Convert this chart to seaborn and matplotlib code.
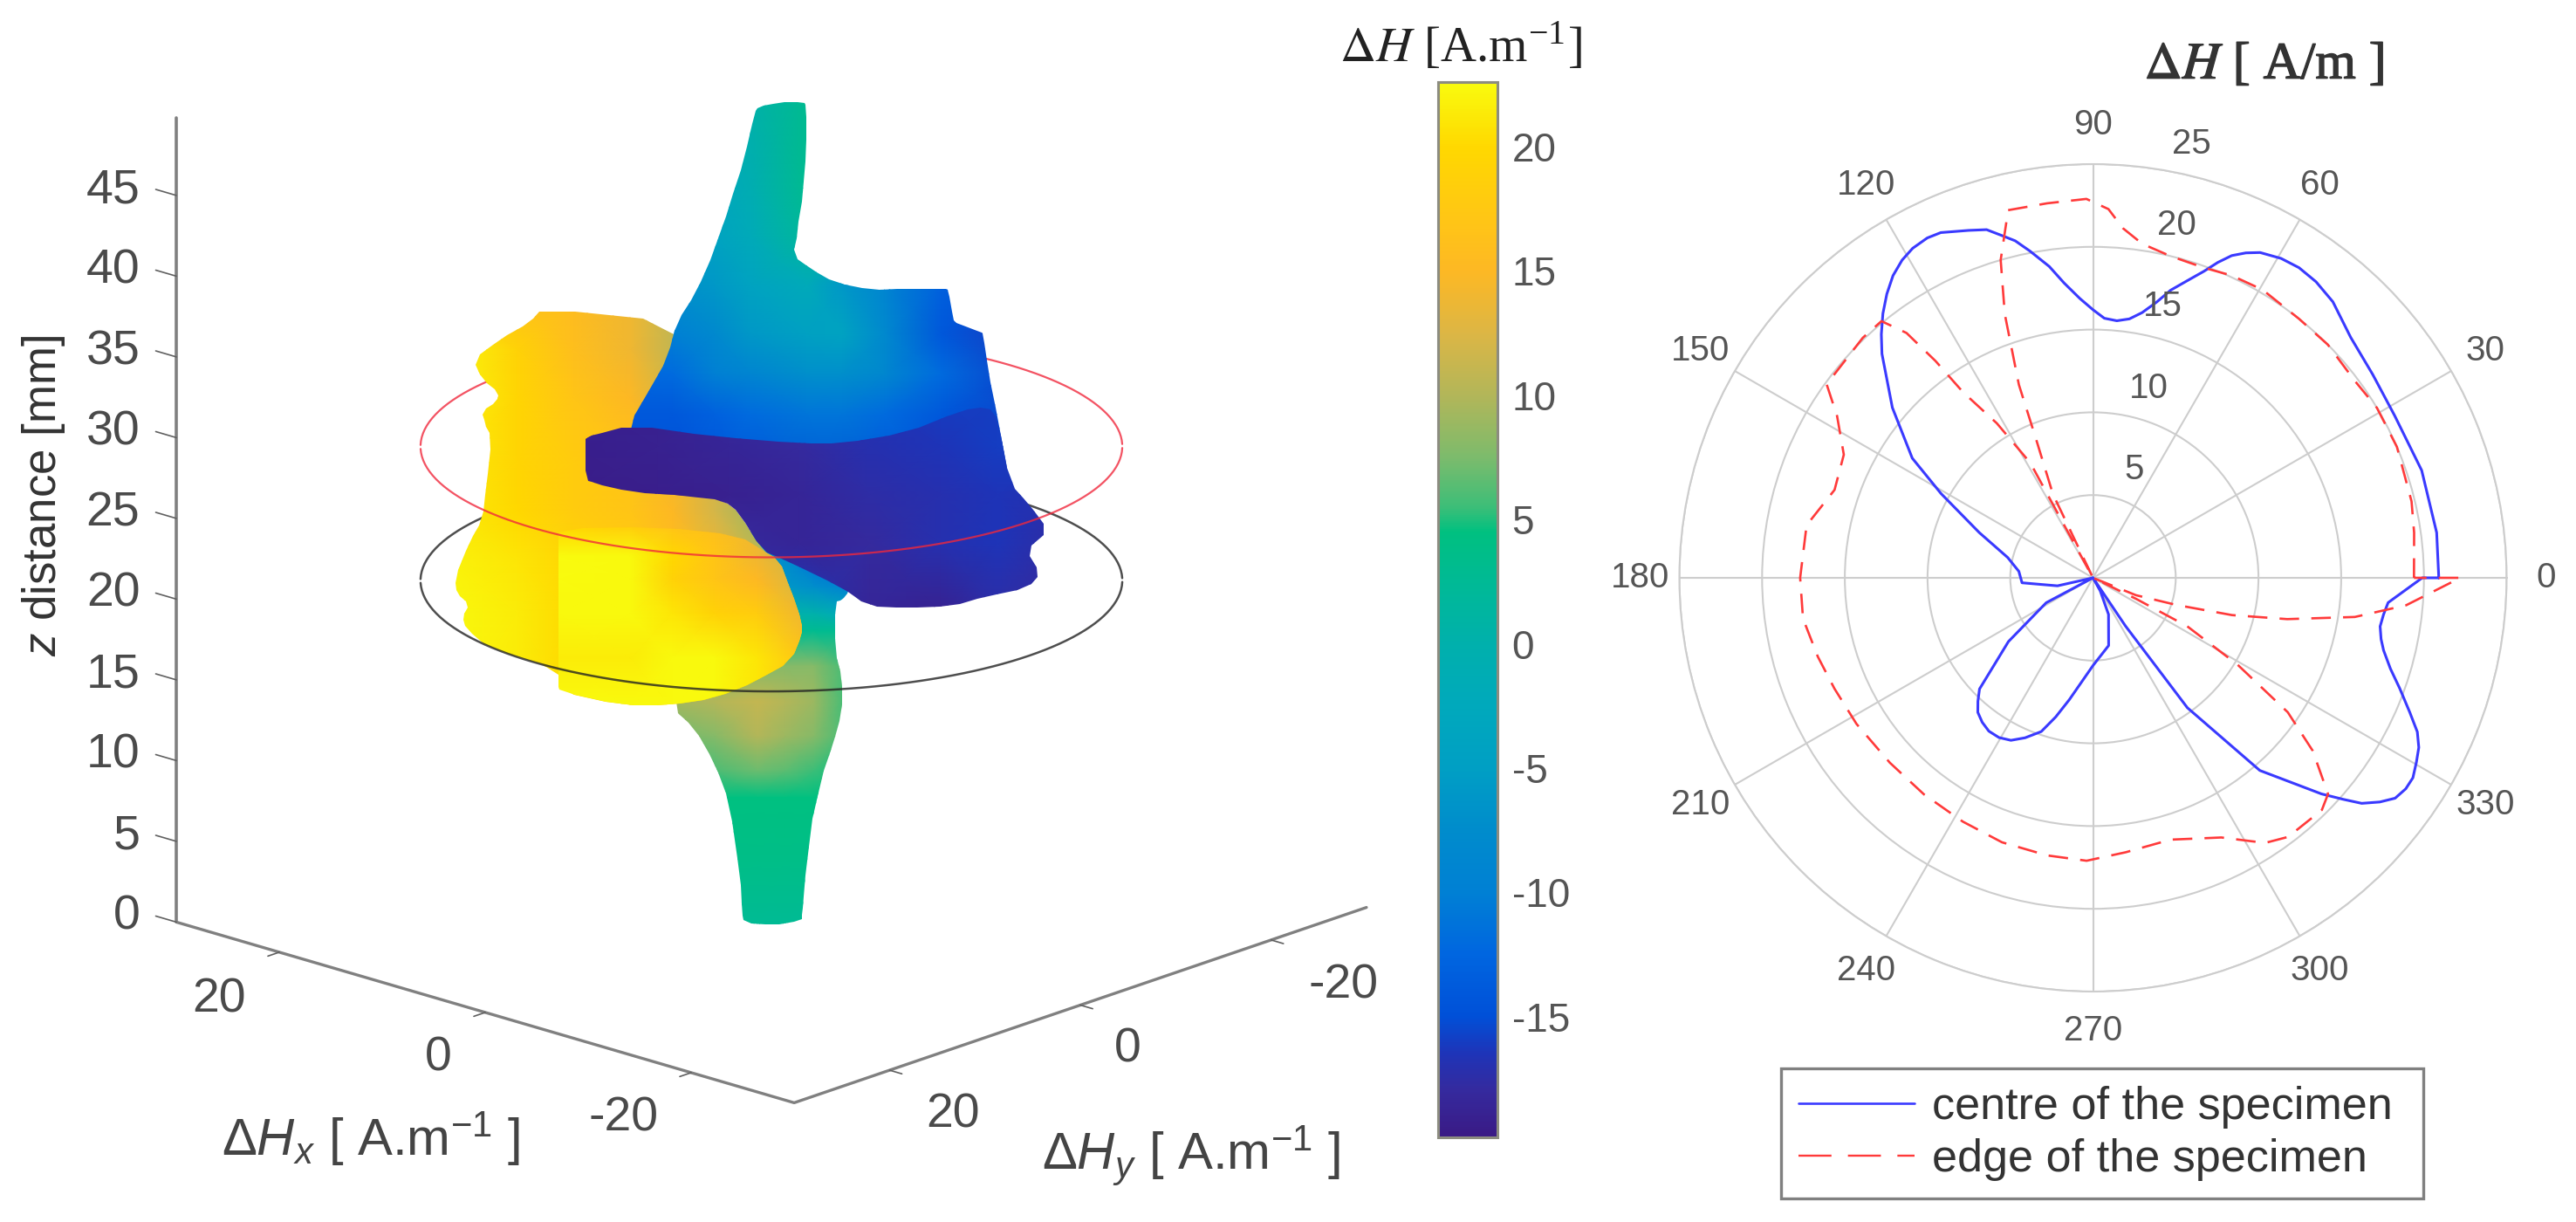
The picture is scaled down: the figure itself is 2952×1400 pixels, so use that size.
import numpy as np
import matplotlib
matplotlib.use("Agg")
import matplotlib.pyplot as plt
import matplotlib.patheffects as pe
import seaborn as sns
from matplotlib.colors import LinearSegmentedColormap, Normalize
from matplotlib.cm import ScalarMappable
from matplotlib.lines import Line2D
from matplotlib.patches import Polygon

W, H = 2952, 1400
sns.set_style("white")
plt.rcParams["font.family"] = ["Liberation Sans", "DejaVu Sans"]
plt.rcParams["axes.unicode_minus"] = False
plt.rcParams["mathtext.fontset"] = "custom"
plt.rcParams["mathtext.rm"] = "Liberation Sans"
plt.rcParams["mathtext.it"] = "Liberation Sans:italic"
plt.rcParams["mathtext.fallback"] = "stixsans"

# colour scale of the bar
bar_values = [-19.85, -18, -16.5, -15, -12.5, -10, -7.5, -5, -2.5, 0, 2, 4.5, 5.5, 7.5, 10, 12.5, 15, 17, 20, 22.6]
bar_colors = ["#3a1a85", "#352a9e", "#1e34b8", "#0050d8", "#0066e0", "#0080d4", "#008ccc", "#009fc4", "#00a9bc",
              "#00b0ac", "#00b89a", "#00c080", "#3cbe78", "#7cbb6c", "#b2b659", "#dcb645", "#fdb824", "#ffc516",
              "#ffd800", "#f9fb0e"]
bar_ticks = [-15, -10, -5, 0, 5, 10, 15, 20]

# polar curves: angle in degrees, dH in A/m
centre_theta = [0, 7.5, 18.1, 28.3, 36, 43, 49, 53, 56.4, 59.5, 62.8, 64.8, 66.7, 68.4, 70.1, 72.5, 74.9, 77, 79.5, 82,
                84.7, 87.5, 90, 92.7, 95.6, 98, 100.9, 103, 104.9, 107, 109.7, 113.8, 116, 118.7, 121, 123.5, 126,
                128.5, 131, 133.3, 139.7, 146.5, 151, 158.3, 166.6, 175, 184, 192.7, 200, 208, 217, 224.4, 227,
                229.4, 232.5, 235.8, 239.5, 243.2, 247, 251.4, 255, 259, 270, 283, 293, 299, 302, 304, 306, 310.9,
                316.6, 318.5, 320, 322, 323.9, 326, 328, 330.3, 332.5, 334.6, 337, 340.2, 343, 346, 348, 350.4,
                352.8, 355.2, 360, 360]
centre_r = [20.9, 20.95, 20.9, 20.7, 20.9, 21.3, 22.1, 22.4, 22.5, 22.4, 22.1, 21.7, 21.2, 20.5, 19.7, 18.8, 18.0, 17.1,
            16.3, 15.8, 15.6, 15.7, 16.2, 16.9, 17.9, 19, 20.1, 20.9, 21.4, 22, 22.3, 22.8, 22.85, 22.7, 22.4, 21.9,
            21.2, 20.4, 19.5, 18.6, 15.9, 13.1, 10.5, 7.4, 5.3, 4.5, 4.3, 2.2, 0, 3.2, 6.4, 9.6, 10.2,
            10.7, 11, 11.2, 11.2, 11.0, 10.5, 9.8, 8.7, 7.5, 5.3, 4.2, 2.4, 0.9, 0, 3.5, 9.7, 15.4,
            19.0, 20.2, 21.2, 22, 22.6, 22.8, 22.8, 22.5, 22.2, 21.7, 20.8, 19.7, 18.8, 18.1, 17.8, 17.6,
            17.7, 17.9, 19.9, 20.9]
edge_theta = [0, 8, 13.5, 23.3, 30.9, 37, 44.8, 51.5, 59.5, 65.3, 70.4, 76.5, 81.6, 85.1, 87.6, 91, 97, 103, 106.2,
              108.5, 111, 112.3, 115.6, 120, 118.7, 118.6, 121.9, 125, 126, 127.3, 129.5, 133.8, 144, 147.7, 153.7,
              161.2, 169.6, 180, 188, 196, 203.2, 211.7, 222.3, 232, 241.9, 251, 260.6, 268.7, 276.8, 286.5, 296.3,
              303, 307, 314.6, 317.4, 321.8, 325.4, 329, 332.8, 334, 336, 338, 342, 345, 348, 351.5, 355, 360, 360]
edge_r = [19.4, 19.6, 19.8, 20, 20, 19.8, 20, 20, 20.2, 20.1, 19.9, 20, 20.4, 21.2, 22.3, 22.9, 22.8, 22.8, 20,
          16.8, 12.5, 9.1, 5.6, 0, 3.6, 7.9, 11, 13.7, 16.2, 18.6, 20.1, 20.1, 19.9, 18.3, 16.8,
          16.5, 17.6, 17.7, 17.7, 17.3, 17, 16.8, 16.6, 16.6, 16.7, 16.9, 17, 17.1, 16.7, 16.5, 17.5,
          19.1, 19.6, 19.7, 19.3, 16.9, 14.3, 10.2, 6.4, 2.9, 0, 2.8, 5.3, 8.7, 12, 16, 19, 22.2, 19.4]
r_ticks = [5, 10, 15, 20, 25]
angle_ticks = [0, 30, 60, 90, 120, 150, 180, 210, 240, 270, 300, 330]

# 3D panel: ticks and the two measuring circles
z_ticks = [0, 5, 10, 15, 20, 25, 30, 35, 40, 45]
hx_ticks = [20, 0, -20]
hy_ticks = [20, 0, -20]
ring_radius = 25
ring_red_z = 29
ring_black_z = 20.7

# outlines of the surface seen from the view direction (u = sideways in A/m, z in mm)
blue_u = [1.21, 0.9, -0.49, -2.3, -2.44, -2.44, -2.23, -1.84, -1.54, -2.74, -4.53, -7.08, -9.47, -12.3, -12.55, -12.82,
          -13.2, -14.8, -15.0, -15.3, -16.05, -16.89, -10, 4, 9.98, 9.98, 8.78, 7.29, 6.69, 5.34, 4.0, 2.95, 1.9]
blue_z = [49.7, 50.05, 50.3, 50.3, 50.15, 47.25, 44.76, 42.27, 40.82, 39.99, 39.16, 38.7, 38.78, 38.75, 38.7, 36.88,
          36.6, 36.1, 35.94, 33.76, 30.65, 26.71, 26.7, 28, 28, 30.45, 32.3, 34.6, 36.67, 38.53, 41.23, 43.93, 46.83]
trunk_u = [-7, -5.5, -4.98, -4.53, -4.53, -4.98, -4.98, -4.38, -3.49, -2.74, -2.29, -2.2, -2.14, -0.05, 1.9, 2.1, 2.2,
           2.95, 4.0, 5.49, 6.99, 7, 3]
trunk_z = [24, 20, 19.52, 19.35, 16.29, 14.66, 12.5, 10.52, 8.36, 5.11, 1.51, 0.1, -0.38, -0.66, -0.47, 0.1, 2.41,
           6.91, 9.43, 11.6, 12.77, 20, 24]
body_u = [16.26, 6.69, 5.5, 5, 3.4, 2.2, 0.7, -0.5, -1.4, -2.14, -2.14, -1.39, 1.0, 4.0, 7.29, 10.58, 15.07, 15.07,
          19.85, 21.65, 21.8, 21.41, 22.25, 22.4, 21.35, 20.45, 20.15, 19.8, 20.3, 20.45, 19.4, 19.26, 20.45, 21.05,
          19.25, 17.01]
body_z = [37.6, 36.67, 33, 26, 25.67, 24.87, 22.56, 22.04, 20.07, 18.08, 17.35, 15.74, 14.48, 13.4, 12.95, 12.95, 13.85,
          15.2, 16.46, 17.72, 18.44, 19.25, 19.88, 20.78, 23.13, 24.43, 26.5, 29.6, 30.45, 31.17, 31.8, 32.31, 33.14,
          34.39, 35.63, 36.67]
front_u = [15.07, 15.07, 15.0, 10.58, 7.29, 4, 1, -1.39, -2.14, -2.14, -1.4, -0.5, 0.7, 2.2, 8, 15.07]
front_z = [23, 14.2, 13.85, 12.95, 12.95, 13.4, 14.48, 15.74, 17.35, 18.08, 20.07, 22.04, 22.56, 23.5, 24, 23.9]
dark_u = [13.12, 12.6, 9.98, 4, -2, -5, -9.47, -13.4, -15.3, -16.05, -16.89, -18.15, -19.64, -18, -19.05, -18.15, -15.16,
          -12.76, -9.47, -6.78, -5, -0.85, 0.7, 2.2, 3.4, 5.79, 9.98, 12.6, 13.12, 13.12]
dark_z = [29.51, 29.7, 30.34, 29.6, 29.2, 29.2, 29.8, 31.2, 31.5, 30.65, 26.71, 25.47, 23.81, 22.56, 21.15, 20.25, 19.71,
          19.08, 18.98, 19.08, 20.28, 22.02, 22.56, 24.87, 25.67, 25.9, 26.2, 26.75, 26.92, 29.3]

# dH read across each outline
blue_grid_u = [10, 7, 4, 1.5, -2.5, -5, -8, -12, -17]
blue_grid_z = [52, 45, 42, 39, 36, 33.5, 31, 26]
blue_dh = [[0, 0, 0.5, 0.5, 3, 3, 3, 3, 3],
           [-3, -3, -3, -1, 3, 3, 3, 3, 3],
           [-5, -5, -4, -2, 2, 2, 2, 2, 2],
           [-8, -7, -6, -4, -2, -6, -9, -13, -15],
           [-10, -10, -8, -6, -4.5, -4, -8, -14, -16],
           [-12.5, -12, -10, -9, -7, -7, -8.5, -12, -15.5],
           [-14, -14, -13, -12, -11, -11, -12, -14, -15.5],
           [-15, -15, -15, -15, -15, -15, -15, -15, -16]]
trunk_grid_u = [8, 4, 1, -1, -3, -5, -8]
trunk_grid_z = [25, 22.45, 20.28, 18.65, 17.57, 15.4, 13.2, 11.05, 8.9, 7.25, 3.45, -0.9]
trunk_dh = [[-14] * 7,
            [-8, -8, -8, -8, -12, -14, -14],
            [-6, -6, -6, -6, -7, -9, -12],
            [0, 0, 0, 0, 0, -2, -2],
            [3] * 7,
            [8, 8, 8, 8, 8, 6, 6],
            [9, 10, 11, 10, 9, 6, 6],
            [7, 8, 10, 9, 8, 6, 6],
            [5, 6, 7, 6.5, 5.5, 4.8, 4.8],
            [4.5] * 7,
            [3.8] * 7,
            [2.5] * 7]
body_grid_u = [23, 18, 14, 10, 7, 4, 1, -3]
body_grid_z = [38, 35, 32, 28, 25, 21.9, 18.65, 12]
body_dh = [[18, 16.5, 15.5, 14, 11, 10, 10, 10],
           [22.4, 19, 16, 14, 11, 10, 10, 10],
           [22.4, 19.5, 17, 15, 12, 10, 10, 10],
           [21.5, 19.5, 18, 17, 14, 12, 10, 10],
           [21.5, 20, 18, 17, 15, 12, 9, 9],
           [22, 21, 19.5, 18, 16, 14, 11, 7],
           [22.4, 21.5, 20, 20, 20, 20, 20, 20],
           [22.4, 21.5, 20, 20, 20, 20, 20, 20]]
front_grid_u = [15.07, 10, 7, 4, 1, -2.2]
front_grid_z = [24, 22.2, 20.8, 18.65, 15.9, 12.7]
front_dh = [[20, 18.5, 17, 16, 14, 11],
            [22.6, 22.4, 20, 17, 14, 11],
            [22.6, 22.4, 19, 17, 15, 12],
            [22.4, 22.4, 21, 19, 18, 14],
            [21.5, 21.5, 22.4, 22.4, 21, 17],
            [22.6, 22.6, 22.4, 22.4, 21, 17]]
dark_grid_u = [14, 8, 3, -2, -7, -12, -16, -20]
dark_grid_z = [32, 29, 26, 23, 18.65]
dark_dh = [[-19, -19, -18, -17.5, -17, -16, -16, -16],
           [-19.3, -19, -18.5, -18, -17, -16.5, -16, -16],
           [-19.5, -19.3, -19, -18.5, -17.5, -17, -16.5, -17],
           [-19.5, -19.5, -18, -18.5, -18, -17, -16.5, -17.5],
           [-19, -19, -18, -16, -18.5, -19, -17.5, -18]]

vmin, vmax = bar_values[0], bar_values[-1]
parula = LinearSegmentedColormap.from_list(
    "parula_like", [((v - vmin) / (vmax - vmin), c) for v, c in zip(bar_values, bar_colors)], N=512)
norm = Normalize(vmin, vmax)


def fig_rect(x0, y0, x1, y1):
    return [x0 / W, 1 - y1 / H, (x1 - x0) / W, (y1 - y0) / H]


def project(hx, hy, z):
    # view of the MATLAB box, goes to the sideways/height coordinates of the panel
    u = (11.8 * np.asarray(hx) + 10.93 * np.asarray(hy)) / 16.2
    h = np.asarray(z) + (3.45 * np.asarray(hx) - 3.73 * np.asarray(hy)) / 18.5
    return u, h


def rounded(ou, oz, passes=1):
    # corner cutting so that the outline edges look soft like the rendered surface
    pts = np.column_stack([ou, oz])
    for _ in range(passes):
        nxt = np.roll(pts, -1, axis=0)
        pts = np.vstack(np.stack([0.75 * pts + 0.25 * nxt, 0.25 * pts + 0.75 * nxt], axis=1))
    return pts


fig = plt.figure(figsize=(W / 100, H / 100), dpi=100)

# --- left panel
ax = fig.add_axes(fig_rect(0, 0, 1640, H))
ax.set_xlim(884 / 16.2, (884 - 1640) / 16.2)
ax.set_ylim((1048 - H) / 18.5, 1048 / 18.5)
ax.axis("off")


def shaded(gu, gz, values, ou, oz, zorder):
    outline = Polygon(rounded(ou, oz), closed=True, transform=ax.transData, facecolor="none", edgecolor="none")
    ax.add_patch(outline)
    mesh = ax.pcolormesh(gu, gz, np.array(values), cmap=parula, norm=norm, shading="gouraud", zorder=zorder)
    mesh.set_clip_path(outline)


shaded(trunk_grid_u, trunk_grid_z, trunk_dh, trunk_u, trunk_z, 3)
shaded(body_grid_u, body_grid_z, body_dh, body_u, body_z, 4)
shaded(front_grid_u, front_grid_z, front_dh, front_u, front_z, 5)
shaded(blue_grid_u, blue_grid_z, blue_dh, blue_u, blue_z, 6)
shaded(dark_grid_u, dark_grid_z, dark_dh, dark_u, dark_z, 7)

# circles: back half behind the surface, front half over it
for ring_z, color, alpha, lw in [(ring_red_z, "#f0283c", 0.8, 1.6), (ring_black_z, "#222222", 0.8, 1.8)]:
    t = np.radians(np.arange(0, 361, 2))
    ru, rh = project(ring_radius * np.cos(t), ring_radius * np.sin(t), ring_z * np.ones_like(t))
    back = rh >= ring_z
    ax.plot(np.where(back, ru, np.nan), rh, color=color, alpha=alpha, lw=lw, zorder=2)
    ax.plot(np.where(back, np.nan, ru), rh, color=color, alpha=alpha, lw=lw, zorder=9)

# box edges and ticks
box_color = "#808080"
corners = [(30, 30), (-30, 30), (-30, -30)]
cu, ch = project([c[0] for c in corners], [c[1] for c in corners], [0, 0, 0])
ax.plot(cu, ch, color=box_color, lw=2.4, zorder=1)
zu, zh = project([30, 30], [30, 30], [0, 49.8])
ax.plot(zu, zh, color=box_color, lw=2.6, zorder=1)
text_color = "#4a4a4a"
for z in z_ticks:
    tu, th = project([30, 32], [30, 30], [z, z])
    ax.plot(tu, th, color="#606060", lw=1.2, zorder=1)
    ax.annotate(str(z), (tu[0], th[0]), xytext=(-30, 4), textcoords="offset points", ha="right", va="center",
                fontsize=40, color=text_color)
for hx, off in zip(hx_ticks, [(-50, -39), (-39, -38), (-56, -38)]):
    tu, th = project([hx, hx], [30, 31.2], [0, 0])
    ax.plot(tu, th, color="#606060", lw=1.2, zorder=1)
    ax.annotate(str(hx), (tu[0], th[0]), xytext=off, textcoords="offset points", ha="center", va="center",
                fontsize=40, color=text_color)
for hy, off in zip(hy_ticks, [(52, -37), (39, -37), (60, -38)]):
    tu, th = project([-30, -31.2], [hy, hy], [0, 0])
    ax.plot(tu, th, color="#606060", lw=1.2, zorder=1)
    ax.annotate(str(hy), (tu[0], th[0]), xytext=off, textcoords="offset points", ha="center", va="center",
                fontsize=40, color=text_color)

fig.text(50 / W, 1 - 568 / H, r"$\mathit{z}$ distance [mm]", rotation=90, ha="center", va="center", fontsize=38, color="#333333")
fig.text(425 / W, 1 - 1305 / H, r"$\Delta\mathit{H}_{\mathit{x}}$ [ A.m$^{\mathrm{-1}}$ ]", ha="center", va="center", fontsize=43, color="#444444")
fig.text(1365 / W, 1 - 1324 / H, r"$\Delta\mathit{H}_{\mathit{y}}$ [ A.m$^{\mathrm{-1}}$ ]", ha="center", va="center", fontsize=43, color="#444444")

# --- colour bar
cax = fig.add_axes(fig_rect(1648, 94, 1716, 1303))
cbar = fig.colorbar(ScalarMappable(norm=norm, cmap=parula), cax=cax, ticks=bar_ticks)
cbar.ax.tick_params(direction="in", length=12, width=1.5, color="#404040", labelsize=33, labelcolor="#555555", pad=12,
                    right=True)
cbar.outline.set_edgecolor("#8c8c80")
cbar.outline.set_linewidth(2.2)
fig.text(1674 / W, 1 - 54 / H, r"$\Delta H$ [A.m$^{\mathregular{-1}}$]", ha="center", va="center", fontsize=41,
         family="Liberation Serif", math_fontfamily="stix", color="#222222")

# --- polar panel
pol = fig.add_axes(fig_rect(2398.5 - 474, 662 - 474, 2398.5 + 474, 662 + 474), projection="polar")
sns.lineplot(x=np.radians(centre_theta), y=centre_r, sort=False, estimator=None, color="#3a3aff", lw=2.2, ax=pol)
sns.lineplot(x=np.radians(edge_theta), y=edge_r, sort=False, estimator=None, color="#ff3a3a", lw=1.9, ax=pol,
             dashes=False, linestyle=(0, (8.5, 5.3)))
pol.set_ylim(0, 25)
pol.set_xlabel("")
pol.set_ylabel("")
pol.set_thetagrids(angle_ticks, labels=[str(a) for a in angle_ticks], fontsize=29, color="#555555")
pol.set_rgrids(r_ticks, labels=[""] * len(r_ticks), angle=80)
pol.tick_params(axis="x", pad=22)
pol.grid(True, color="#cdcdcd", lw=1.5)
pol.spines["polar"].set_edgecolor("#cdcdcd")
pol.spines["polar"].set_linewidth(1.5)
for r in r_ticks:
    pol.annotate(str(r), (np.radians(80), r), xytext=(22, 22), textcoords="offset points", ha="center", va="center",
                 fontsize=29, color="#555555", annotation_clip=False)

fig.text(2595 / W, 1 - 76 / H, r"$\Delta H$ [ A/m ]", ha="center", va="center", fontsize=43,
         family="Liberation Serif", math_fontfamily="stix", color="#333333",
         path_effects=[pe.withStroke(linewidth=1.0, foreground="#333333")])

handles = [Line2D([], [], color="#3a3aff", lw=1.9),
           Line2D([], [], color="#ff3a3a", lw=1.7, linestyle=(0, (16, 8)))]
fig.legend(handles, ["centre of the specimen", "edge of the specimen"],
           loc="lower left", bbox_to_anchor=(2041 / W, 1 - 1373 / H, 736 / W, 148 / H), mode="expand",
           borderaxespad=0, fancybox=False, framealpha=1, edgecolor="#808080", fontsize=37.5, handlelength=2.55,
           handletextpad=0.4, labelspacing=0.22, borderpad=0.38, labelcolor="#333333").get_frame().set_linewidth(2.4)

fig.savefig("out.png", dpi=100)
